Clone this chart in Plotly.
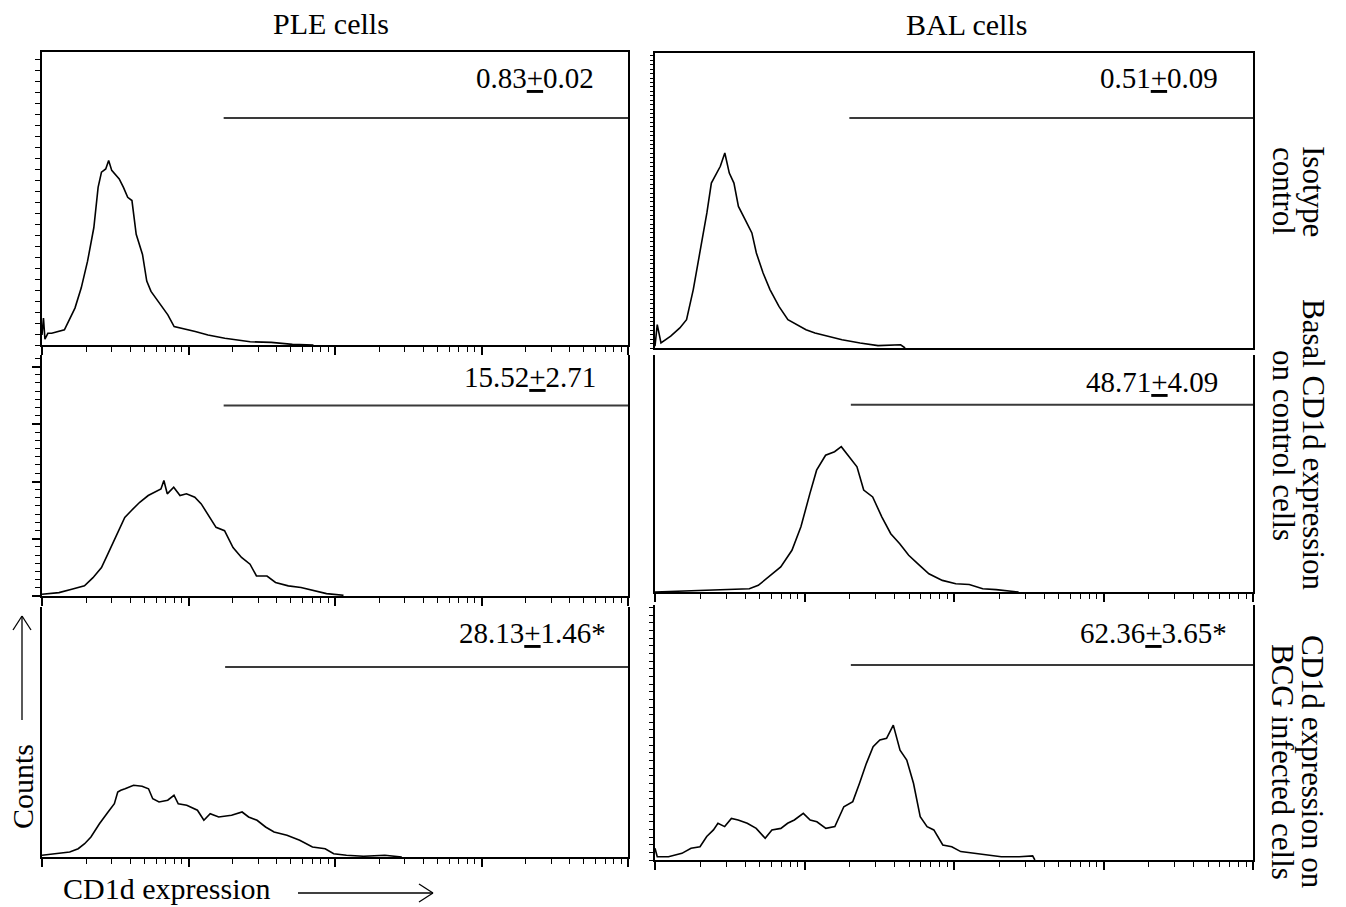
import plotly.graph_objects as go
import numpy as np

# ---------------- data (log10 fluorescence, relative counts %) ----------------
ple_iso_log = [0.0, 0.01, 0.02, 0.04, 0.066, 0.153, 0.225, 0.268, 0.311, 0.354, 0.383, 0.406, 0.435,
               0.455, 0.476, 0.499, 0.527, 0.556, 0.585, 0.614, 0.643, 0.686, 0.715, 0.744, 0.801,
               0.859, 0.902, 0.960, 1.046, 1.133, 1.248, 1.421, 1.565, 1.709, 1.853]
ple_iso_cnt = [3.4, 9.2, 2.0, 4.0, 4.0, 5.2, 12.6, 19.5, 28.6, 40.1, 53.8, 59.0, 60.1,
               63.0, 59.6, 58.4, 56.7, 53.8, 50.4, 49.3, 37.8, 30.9, 21.8, 18.3, 14.3,
               10.3, 6.3, 5.7, 4.6, 3.4, 2.3, 1.1, 0.9, 0.2, 0.0]

ple_basal_log = [0.0, 0.116, 0.203, 0.29, 0.348, 0.406, 0.449, 0.493, 0.536, 0.565, 0.609, 0.667,
                 0.725, 0.768, 0.812, 0.832, 0.855, 0.899, 0.942, 0.986, 1.043, 1.087, 1.130, 1.188,
                 1.246, 1.304, 1.362, 1.420, 1.464, 1.536, 1.594, 1.681, 1.768, 1.855, 1.942, 2.058]
ple_basal_cnt = [0.7, 1.4, 2.8, 4.2, 7.6, 11.8, 17.4, 22.9, 28.5, 32.6, 35.4, 38.9,
                 41.7, 43.1, 44.4, 47.9, 42.4, 45.1, 41.7, 42.4, 41.0, 38.2, 34.0, 28.5,
                 27.1, 20.1, 16.0, 13.2, 8.3, 8.3, 5.6, 4.2, 3.5, 2.1, 1.0, 0.3]

ple_bcg_log = [0.0, 0.102, 0.189, 0.247, 0.291, 0.334, 0.392, 0.451, 0.494, 0.517, 0.538, 0.567,
               0.625, 0.683, 0.727, 0.756, 0.799, 0.858, 0.901, 0.930, 0.988, 1.061, 1.105, 1.148,
               1.206, 1.294, 1.366, 1.410, 1.468, 1.526, 1.584, 1.672, 1.759, 1.846, 1.933, 1.991,
               2.078, 2.195, 2.34, 2.456]
ple_bcg_cnt = [0.7, 1.3, 2.0, 3.3, 5.3, 8.0, 13.3, 18.0, 21.3, 26.0, 26.7, 27.3,
               28.7, 28.3, 27.3, 23.3, 22.0, 22.7, 24.7, 21.3, 20.7, 18.7, 14.7, 17.3,
               16.0, 16.7, 18.0, 16.0, 14.7, 12.0, 10.0, 8.7, 6.7, 4.0, 3.3, 1.3,
               0.7, 0.3, 0.7, 0.0]

bal_iso_log = [0.0, 0.015, 0.04, 0.105, 0.166, 0.211, 0.256, 0.301, 0.347, 0.377, 0.407, 0.437,
               0.467, 0.497, 0.528, 0.558, 0.603, 0.648, 0.678, 0.723, 0.769, 0.829, 0.889, 0.950,
               1.010, 1.070, 1.161, 1.251, 1.372, 1.492, 1.643, 1.673]
bal_iso_cnt = [0.6, 7.9, 1.7, 4.0, 6.8, 9.6, 19.8, 32.2, 45.8, 55.9, 58.8, 61.6,
               66.1, 59.3, 55.9, 48.0, 43.5, 39.0, 32.2, 25.4, 19.8, 14.1, 9.6, 7.9,
               6.2, 5.1, 4.0, 2.8, 1.7, 0.8, 1.1, 0.0]

bal_basal_log = [0.0, 0.511, 0.631, 0.691, 0.781, 0.841, 0.916, 0.976, 1.036, 1.081, 1.141, 1.201,
                 1.246, 1.291, 1.351, 1.396, 1.456, 1.517, 1.577, 1.637, 1.697, 1.757, 1.832, 1.922,
                 2.012, 2.102, 2.192, 2.282, 2.402, 2.432]
bal_basal_cnt = [0.0, 1.0, 1.4, 2.8, 7.7, 10.6, 17.6, 27.5, 41.5, 51.4, 57.7, 59.2,
                 61.3, 57.7, 52.8, 43.0, 40.1, 31.7, 24.6, 20.4, 15.5, 12.0, 7.7, 4.9,
                 3.5, 3.2, 1.4, 1.0, 0.4, 0.0]

bal_bcg_log = [0.0, 0.015, 0.09, 0.18, 0.241, 0.301, 0.346, 0.391, 0.421, 0.466, 0.511, 0.556,
               0.617, 0.677, 0.737, 0.782, 0.842, 0.887, 0.932, 0.992, 1.038, 1.083, 1.143, 1.203,
               1.263, 1.323, 1.368, 1.414, 1.459, 1.504, 1.549, 1.594, 1.639, 1.684, 1.729, 1.774,
               1.820, 1.865, 1.925, 1.985, 2.045, 2.135, 2.226, 2.316, 2.436, 2.526, 2.541]
bal_bcg_cnt = [4.6, 1.3, 1.3, 2.6, 4.6, 5.2, 9.2, 11.8, 14.4, 13.1, 16.3, 15.7,
               14.4, 12.4, 8.5, 11.8, 12.4, 14.4, 15.7, 18.3, 15.7, 15.0, 12.4, 13.1,
               20.9, 22.9, 30.1, 37.9, 44.4, 47.1, 47.7, 52.9, 43.1, 39.2, 30.1, 17.0,
               13.1, 11.8, 5.9, 5.2, 3.3, 2.6, 2.0, 1.3, 1.3, 1.6, 0.0]

# gate (marker M1) start in log10 units and its height (% of panel)
gate_start_log = [1.24, 1.24, 1.25, 1.30, 1.31, 1.31]
gate_level = [77.5, 79.0, 76.0, 78.0, 79.0, 76.5]
gate_end = 10000

percent_labels = ["0.83<u>+</u>0.02", "15.52<u>+</u>2.71", "28.13<u>+</u>1.46*",
                  "0.51<u>+</u>0.09", "48.71<u>+</u>4.09", "62.36<u>+</u>3.65*"]
column_titles = ["PLE cells", "BAL cells"]
row_title_lines = [("Isotype", "control"),
                   ("Basal CD1d expression", "on control cells"),
                   ("CD1d expression on", "BCG infected cells")]

# ---------------- layout geometry ----------------
W, H = 1346, 907
FONT = "Liberation Serif"


def px_x(p):
    return p / W


def px_y(p):
    return 1 - p / H


# (left, right, top, bottom) in page pixels for each panel: PLE rows then BAL rows
boxes = [
    (42, 628, 52, 345), (42, 628, 355, 596), (42, 628, 607, 857),
    (655, 1253, 53, 348), (655, 1253, 355, 592), (655, 1253, 605, 860),
]
series = [
    (ple_iso_log, ple_iso_cnt), (ple_basal_log, ple_basal_cnt), (ple_bcg_log, ple_bcg_cnt),
    (bal_iso_log, bal_iso_cnt), (bal_basal_log, bal_basal_cnt), (bal_bcg_log, bal_bcg_cnt),
]
# label placement: right edge px, centre y px
label_pos = [(596, 78), (598, 377), (608, 633), (1220, 78), (1220, 382), (1229, 633)]

minor_vals = [k * 10 ** n for n in range(4) for k in range(2, 10)]

fig = go.Figure()
layout = dict(
    width=W, height=H, autosize=False,
    margin=dict(l=0, r=0, t=0, b=0),
    paper_bgcolor="white", plot_bgcolor="white",
    showlegend=False,
    font=dict(family=FONT, color="black"),
)

# axis tick styles per panel
x_has_ticks = [True, True, True, False, True, True]
y_tick_style = [
    dict(ticks="outside", tickmode="linear", tick0=0, dtick=3.75, ticklen=5, tickwidth=1.3),
    dict(ticks="outside", tickmode="linear", tick0=0, dtick=23.75, ticklen=8, tickwidth=1.5,
         minor=dict(ticks="outside", dtick=3.4, ticklen=5, tickwidth=1.2, tickcolor="black")),
    dict(ticks=""),
    dict(ticks="outside", tickmode="linear", tick0=0, dtick=1.5, ticklen=3, tickwidth=1),
    dict(ticks=""),
    dict(ticks="outside", tickmode="linear", tick0=0, dtick=3.0, ticklen=4, tickwidth=1.2),
]

annotations = []
for i, ((l, r, t, b), (lx, cy)) in enumerate(zip(boxes, series)):
    idx = "" if i == 0 else str(i + 1)
    xname, yname = "x" + idx, "y" + idx
    top_row = i in (0, 3)
    xa = dict(domain=[px_x(l), px_x(r)], anchor=yname, type="log", range=[0, 4],
              showline=True, linecolor="black", linewidth=2, mirror=top_row,
              showgrid=False, zeroline=False, showticklabels=False, fixedrange=True)
    if x_has_ticks[i]:
        xa.update(ticks="outside", tickvals=[1, 10, 100, 1000, 10000], ticklen=8,
                  tickwidth=1.5, tickcolor="black",
                  minor=dict(tickvals=minor_vals, ticks="outside", ticklen=5,
                             tickwidth=1.2, tickcolor="black"))
    else:
        xa.update(ticks="")
    ya = dict(domain=[px_y(b), px_y(t)], anchor=xname, range=[0, 100],
              showline=True, linecolor="black", linewidth=2, mirror=True,
              showgrid=False, zeroline=False, showticklabels=False, fixedrange=True,
              tickcolor="black")
    ya.update(y_tick_style[i])
    layout["xaxis" + idx] = xa
    layout["yaxis" + idx] = ya

    x_vals = np.power(10.0, np.array(lx))
    fig.add_trace(go.Scatter(x=x_vals, y=cy, mode="lines", xaxis=xname, yaxis=yname,
                             line=dict(color="black", width=1.6), hoverinfo="skip"))
    # gate marker line
    fig.add_trace(go.Scatter(x=[10 ** gate_start_log[i], gate_end],
                             y=[gate_level[i], gate_level[i]], mode="lines",
                             xaxis=xname, yaxis=yname,
                             line=dict(color="#3a3a3a", width=2), hoverinfo="skip"))

    rx, ly = label_pos[i]
    annotations.append(dict(text=percent_labels[i], x=px_x(rx), y=px_y(ly),
                            xref="paper", yref="paper", xanchor="right", yanchor="middle",
                            showarrow=False, font=dict(family=FONT, size=29, color="black")))

# column titles
annotations.append(dict(text=column_titles[0], x=px_x(331), y=px_y(23), xref="paper", yref="paper",
                        xanchor="center", yanchor="middle", showarrow=False,
                        font=dict(family=FONT, size=30)))
annotations.append(dict(text=column_titles[1], x=px_x(966), y=px_y(25), xref="paper", yref="paper",
                        xanchor="center", yanchor="middle", showarrow=False,
                        font=dict(family=FONT, size=30)))

# row titles (rotated, two lines each)
row_centres = [191, 445, 762]
for (line1, line2), cy in zip(row_title_lines, row_centres):
    for txt, cx in ((line1, 1313), (line2, 1283)):
        annotations.append(dict(text=txt, x=px_x(cx), y=px_y(cy), xref="paper", yref="paper",
                                xanchor="center", yanchor="middle", showarrow=False,
                                textangle=90, font=dict(family=FONT, size=31)))

# axis captions
annotations.append(dict(text="Counts", x=px_x(22), y=px_y(787), xref="paper", yref="paper",
                        xanchor="center", yanchor="middle", showarrow=False, textangle=-90,
                        font=dict(family=FONT, size=30)))
annotations.append(dict(text="CD1d expression", x=px_x(61), y=px_y(888), xref="paper", yref="paper",
                        xanchor="left", yanchor="middle", showarrow=False,
                        font=dict(family=FONT, size=30)))

layout["annotations"] = annotations

# arrows next to the axis captions (open arrowheads)
arrow_style = dict(color="black", width=1.3)
shapes = [
    dict(type="line", xref="paper", yref="paper", x0=px_x(298), y0=px_y(893), x1=px_x(433), y1=px_y(893), line=arrow_style),
    dict(type="line", xref="paper", yref="paper", x0=px_x(419), y0=px_y(884), x1=px_x(433), y1=px_y(893), line=arrow_style),
    dict(type="line", xref="paper", yref="paper", x0=px_x(419), y0=px_y(902), x1=px_x(433), y1=px_y(893), line=arrow_style),
    dict(type="line", xref="paper", yref="paper", x0=px_x(22), y0=px_y(720), x1=px_x(22), y1=px_y(616), line=arrow_style),
    dict(type="line", xref="paper", yref="paper", x0=px_x(13), y0=px_y(630), x1=px_x(22), y1=px_y(616), line=arrow_style),
    dict(type="line", xref="paper", yref="paper", x0=px_x(31), y0=px_y(630), x1=px_x(22), y1=px_y(616), line=arrow_style),
]
layout["shapes"] = shapes

fig.update_layout(**layout)
# remove the browser's default 8px body margin so the figure fills the window exactly
fig.write_html("out.html",
               config={"displayModeBar": False},
               post_script="document.body.style.margin='0';document.body.style.overflow='hidden';")
